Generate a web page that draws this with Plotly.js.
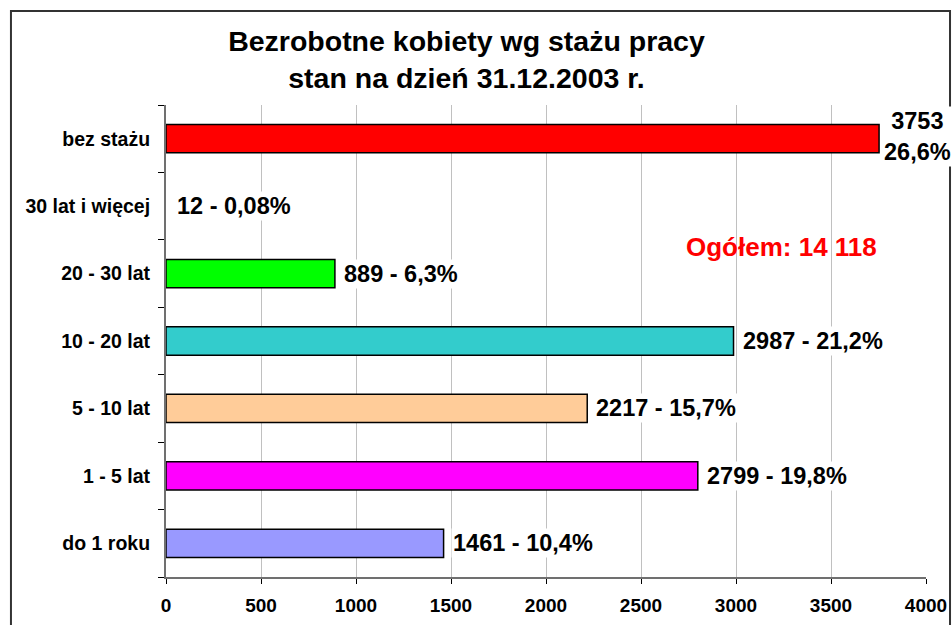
<!DOCTYPE html>
<html>
<head>
<meta charset="utf-8">
<script src="https://cdn.plot.ly/plotly-3.0.1.min.js"></script>
<style>html,body{margin:0;padding:0;background:#fff;}#chart{width:952px;height:625px;}</style>
</head>
<body>
<div id="chart"></div>
<script>
const categories = ["do 1 roku", "1 - 5 lat", "5 - 10 lat", "10 - 20 lat", "20 - 30 lat", "30 lat i więcej", "bez stażu"];
const values = [1461, 2799, 2217, 2987, 889, 12, 3753];
const labels = ["1461 - 10,4%", "2799 - 19,8%", "2217 - 15,7%", "2987 - 21,2%", "889 - 6,3%", "12 - 0,08%", "3753<br>26,6%"];
const colors = ["#9999FF", "#FF00FF", "#FFCC99", "#33CCCC", "#00FF00", "#FFFFFF", "#FF0000"];
const xTicks = [0, 500, 1000, 1500, 2000, 2500, 3000, 3500, 4000];
const titleText = "Bezrobotne kobiety wg stażu pracy<br>stan na dzień 31.12.2003 r.";
const totalText = "Ogółem: 14 118";

const FONT = "Liberation Sans, Arial, sans-serif";

const trace = {
  type: "bar",
  orientation: "h",
  y: categories,
  x: values,
  width: 0.42,
  marker: {color: colors, line: {color: "#000", width: values.map(v => v < 50 ? 0 : 1.5)}},
  hoverinfo: "none"
};

const labelAnnotations = categories.map((c, i) => ({
  x: values[i], y: c, xref: "x", yref: "y",
  text: labels[i],
  showarrow: false,
  xanchor: "left", yanchor: "middle",
  align: "center",
  xshift: labels[i].indexOf("<br>") >= 0 ? 3 : 7,
  yshift: labels[i].indexOf("<br>") >= 0 ? 2 : 0,
  bgcolor: "#fff", borderpad: 1,
  font: {family: FONT, size: 23.5, weight: "bold", color: "#000"}
}));

const layout = {
  width: 952, height: 625,
  margin: {l: 166, r: 26, t: 105, b: 48},
  paper_bgcolor: "#fff", plot_bgcolor: "#fff",
  showlegend: false,
  font: {family: FONT, color: "#000"},
  title: {
    text: titleText,
    font: {family: FONT, size: 28.5, weight: "bold", color: "#000"},
    x: 0.49, xref: "container", xanchor: "center",
    y: 0.918, yref: "container", yanchor: "middle"
  },
  xaxis: {
    range: [0, 4000],
    tickvals: xTicks,
    ticktext: xTicks.map(String),
    showgrid: true, gridcolor: "#C0C0C0", gridwidth: 1,
    zeroline: false,
    showline: true, linecolor: "#707070", linewidth: 2,
    ticks: "outside", ticklen: 5, tickcolor: "#000", tickwidth: 1,
    tickfont: {family: FONT, size: 19, weight: "bold", color: "#000"},
    ticklabelstandoff: 5,
    fixedrange: true
  },
  yaxis: {
    type: "category",
    categoryarray: categories,
    range: [-0.5, 6.5],
    showgrid: false, zeroline: false,
    showline: true, linecolor: "#707070", linewidth: 2,
    ticks: "outside", ticklen: 6, tickcolor: "#000", tickwidth: 1,
    tickson: "boundaries",
    tickfont: {family: FONT, size: 19.5, weight: "bold", color: "#000"},
    ticklabelstandoff: 10,
    fixedrange: true
  },
  annotations: labelAnnotations.concat([{
    text: totalText,
    xref: "x", yref: "paper",
    x: 3237, y: 0.699,
    xanchor: "center", yanchor: "middle",
    showarrow: false,
    font: {family: FONT, size: 26, weight: "bold", color: "#FF0000"}
  }]),
  shapes: [{
    type: "rect", xref: "paper", yref: "paper",
    x0: -0.204, x1: 1.0316, y0: -0.25, y1: 1.199,
    line: {color: "#333", width: 2}, fillcolor: "rgba(0,0,0,0)", layer: "below"
  }]
};

Plotly.newPlot("chart", [trace], layout, {displayModeBar: false, staticPlot: true});
</script>
</body>
</html>
